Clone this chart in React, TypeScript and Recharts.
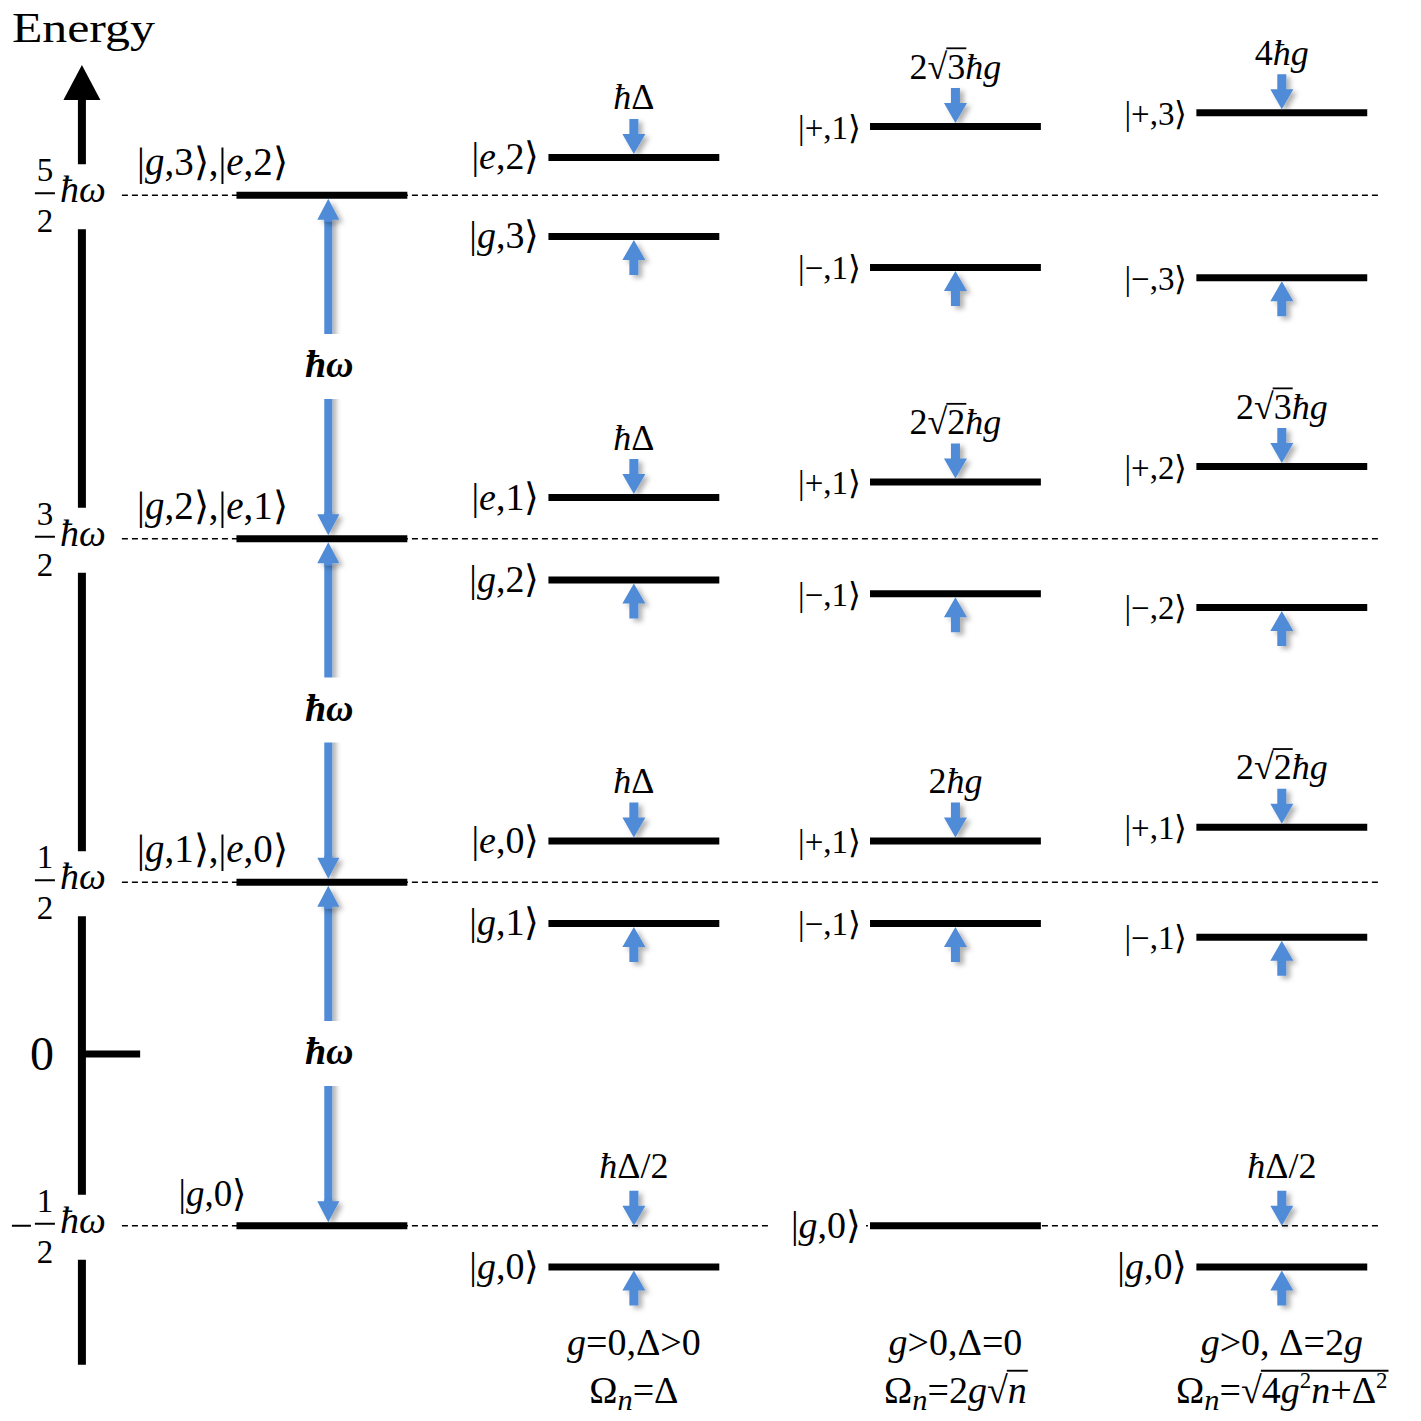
import React, { useLayoutEffect, useRef, useState } from 'react';
import { ComposedChart, XAxis, YAxis, Scatter, ReferenceLine } from 'recharts';

const FONT = "'Liberation Serif', 'Times New Roman', serif";
const BLUE = '#4f8bd6';

// horizontal placement (column units)
const columnX = [1.0, 1.975, 2.98, 4.0];
const levelHalfWidth = 0.267;
const energyAxisX = 0.25;
const dashStart = 0.375;
const dashEnd = 4.306;

// energies in units of ħω
const bareEnergies = [2.5, 1.5, 0.5, -0.5];
const bareKets = ['|g,3⟩,|e,2⟩', '|g,2⟩,|e,1⟩', '|g,1⟩,|e,0⟩', '|g,0⟩'];
const tickNumerators = ['5', '3', '1', '1'];
const axisTop = 2.879;
const axisBottom = -0.905;

const dispersiveEnergies = [2.61, 2.38, 1.62, 1.38, 0.62, 0.38, -0.62];
const dispersiveKets = ['|e,2⟩', '|g,3⟩', '|e,1⟩', '|g,2⟩', '|e,0⟩', '|g,1⟩', '|g,0⟩'];
const dispersiveSplits = ['ħΔ', 'ħΔ', 'ħΔ', 'ħΔ/2'];

const resonantEnergies = [2.7, 2.29, 1.665, 1.34, 0.62, 0.38, -0.5];
const resonantKets = ['|+,1⟩', '|−,1⟩', '|+,1⟩', '|−,1⟩', '|+,1⟩', '|−,1⟩', '|g,0⟩'];
const resonantSplits = ['2√[3]ħg', '2√[2]ħg', '2ħg'];

const detunedEnergies = [2.74, 2.26, 1.71, 1.3, 0.66, 0.34, -0.62];
const detunedKets = ['|+,3⟩', '|−,3⟩', '|+,2⟩', '|−,2⟩', '|+,1⟩', '|−,1⟩', '|g,0⟩'];
const detunedSplits = ['4ħg', '2√[3]ħg', '2√[2]ħg', 'ħΔ/2'];

const conditions = ['g=0,Δ>0', 'g>0,Δ=0', 'g>0, Δ=2g'];
const rabiFrequencies = ['Ω_n=Δ', 'Ω_n=2g√[n]', 'Ω_n=√[4g^2n+Δ^2]'];
const conditionE = -0.876;
const rabiE = -1.015;

// room left at each end of a photon arrow shaft for its head
const headSpan = 0.066;
const photonArrowX = columnX[0] + 0.02;

const coupled = [
  { x: columnX[1], energies: dispersiveEnergies, kets: dispersiveKets, splits: dispersiveSplits },
  { x: columnX[2], energies: resonantEnergies, kets: resonantKets, splits: resonantSplits },
  { x: columnX[3], energies: detunedEnergies, kets: detunedKets, splits: detunedSplits },
];

const levels = [
  ...bareEnergies.map((y) => ({ x: columnX[0], y })),
  ...coupled.flatMap((c) => c.energies.map((y) => ({ x: c.x, y }))),
];
const bareKetPoints = bareEnergies.map((y, i) => ({ x: columnX[0] - levelHalfWidth, y, ket: bareKets[i] }));
const ketPoints = coupled.flatMap((c) =>
  c.energies.map((y, i) => ({ x: c.x - levelHalfWidth, y, ket: c.kets[i] }))
);
const downArrows = coupled.flatMap((c) =>
  c.splits.map((label, k) =>
    k < 3
      ? { x: c.x, y: c.energies[2 * k], label, onLine: false }
      : { x: c.x, y: bareEnergies[3], label, onLine: true }
  )
);
const upArrows = coupled.flatMap((c) =>
  c.splits.map((_, k) => ({ x: c.x, y: k < 3 ? c.energies[2 * k + 1] : c.energies[6] }))
);
const photonPairs = bareEnergies.slice(0, 3).map((u, k) => ({ upper: u, lower: bareEnergies[k + 1] }));
const photonTops = photonPairs.map((p) => ({ x: photonArrowX, y: p.upper }));
const photonBottoms = photonPairs.map((p) => ({ x: photonArrowX, y: p.lower }));
const photonLabels = photonPairs.map((p) => ({ x: photonArrowX, y: (p.upper + p.lower) / 2 }));
const ticks = bareEnergies.map((y, i) => ({ x: energyAxisX, y, num: tickNumerators[i], neg: y < 0 }));
const captions = coupled.flatMap((c, i) => [
  { x: c.x, y: conditionE, text: conditions[i] },
  { x: c.x, y: rabiE, text: rabiFrequencies[i] },
]);

type Seg = { t: string; it: boolean; sub: boolean; sup: boolean };
type Run = { ov: boolean; segs: Seg[] };
// tiny markup: [..] radicand (gets a bar), _x subscript, ^x superscript; latin letters italic
const parse = (s: string): Run[] => {
  const runs: Run[] = [{ ov: false, segs: [] }];
  for (let i = 0; i < s.length; i++) {
    const c = s[i];
    if (c === '[' || c === ']') { runs.push({ ov: c === '[', segs: [] }); continue; }
    const cur = runs[runs.length - 1];
    if (c === '_' || c === '^') {
      const n = s[++i];
      cur.segs.push({ t: n, it: /[a-zħω]/.test(n), sub: c === '_', sup: c === '^' });
      continue;
    }
    cur.segs.push({ t: c, it: /[a-zħω]/.test(c), sub: false, sup: false });
  }
  return runs.filter((r) => r.segs.length);
};

const MathText = ({ x, y, s, size, anchor = 'middle', bold = false }: any) => {
  const textRef = useRef<SVGTextElement>(null);
  const ovRefs = useRef<(SVGTSpanElement | null)[]>([]);
  const [bars, setBars] = useState<{ x1: number; x2: number }[]>([]);
  const runs = parse(s);

  useLayoutEffect(() => {
    const t = textRef.current;
    const svg = t?.ownerSVGElement;
    if (!t || !svg) return;
    const base = svg.getBoundingClientRect();
    const next = ovRefs.current
      .filter((r): r is SVGTSpanElement => !!r)
      .map((r) => {
        const b = r.getBoundingClientRect();
        return { x1: b.left - base.left - 1, x2: b.right - base.left + 1 };
      });
    if (JSON.stringify(next) !== JSON.stringify(bars)) setBars(next);
  });

  let shift = 0;
  let k = 0;
  let ovIndex = 0;
  const seg = (g: Seg) => {
    const target = g.sub ? 0.2 * size : g.sup ? -0.38 * size : 0;
    const dy = target - shift;
    shift = target;
    return (
      <tspan key={k++} dy={dy} fontFamily={FONT} fontStyle={g.it ? 'italic' : 'normal'}
        fontSize={g.sup ? size * 0.6 : g.sub ? size * 0.8 : size}>
        {g.t}
      </tspan>
    );
  };
  return (
    <g>
      <text ref={textRef} x={x} y={y} fontSize={size} fontFamily={FONT} textAnchor={anchor} fill="#000"
        fontWeight={bold ? 'bold' : 'normal'} style={{ whiteSpace: 'pre' }}>
        {runs.map((r) => {
          if (!r.ov) return r.segs.map(seg);
          const idx = ovIndex++;
          return (
            <tspan key={k++} ref={(el) => { ovRefs.current[idx] = el; }} fontFamily={FONT} fontSize={size}>
              {r.segs.map(seg)}
            </tspan>
          );
        })}
      </text>
      {bars.map((b, i) => (
        <line key={i} x1={b.x1} x2={b.x2} y1={y - 0.84 * size} y2={y - 0.84 * size} stroke="#000" strokeWidth={size * 0.05} />
      ))}
    </g>
  );
};

const arrowPath = (x: number, tip: number, dir: number, shaftW: number, headW: number, headL: number, len: number) => {
  const b = tip - dir * headL;
  const t = tip - dir * len;
  return `M${x - shaftW / 2},${t} L${x + shaftW / 2},${t} L${x + shaftW / 2},${b} L${x + headW / 2},${b} L${x},${tip} L${x - headW / 2},${b} L${x - shaftW / 2},${b} Z`;
};

const DownArrow = ({ cx, cy, payload }: any) => {
  const tip = payload.onLine ? cy : cy - 3.5;
  return (
    <g>
      <path d={arrowPath(cx, tip, 1, 9, 23, 20, 35)} fill={BLUE} filter="url(#arrowShadow)" />
      <MathText x={cx} y={cy - 48} s={payload.label} size={36} />
    </g>
  );
};

const UpArrow = ({ cx, cy }: any) => (
  <path d={arrowPath(cx, cy + 3.5, -1, 9, 23, 20, 35)} fill={BLUE} filter="url(#arrowShadow)" />
);

const PhotonHeadUp = ({ cx, cy }: any) => (
  <path d={arrowPath(cx, cy + 3.5, -1, 8, 22, 21, 23)} fill={BLUE} filter="url(#arrowShadow)" />
);
const PhotonHeadDown = ({ cx, cy }: any) => (
  <path d={arrowPath(cx, cy - 3.5, 1, 8, 22, 21, 23)} fill={BLUE} filter="url(#arrowShadow)" />
);

const PhotonLabel = ({ cx, cy }: any) => (
  <g>
    <rect x={cx - 28} y={cy - 33} width={60} height={65} fill="#fff" />
    <MathText x={cx + 1} y={cy + 10} s="ħω" size={38} bold />
  </g>
);

const BareKet = ({ cx, cy, payload }: any) => (
  <MathText x={cx - 24} y={cy - 20} s={payload.ket} size={payload.ket.length > 6 ? 39 : 37} />
);

const Ket = ({ cx, cy, payload }: any) => {
  const size = /[ge]/.test(payload.ket) ? 38 : 33;
  const w = payload.ket.length * size * 0.5;
  return (
    <g>
      <rect x={cx - 6 - w} y={cy - 20} width={w + 2} height={40} fill="#fff" />
      <MathText x={cx - 9} y={cy + 12} s={payload.ket} size={size} anchor="end" />
    </g>
  );
};

const TickLabel = ({ cx, cy, payload }: any) => (
  <g fontFamily={FONT}>
    <rect x={cx - 24} y={cy - 31} width={52} height={65} fill="#fff" />
    {payload.neg && <line x1={cx - 70} x2={cx - 51} y1={cy} y2={cy} stroke="#000" strokeWidth={2} />}
    <text x={cx - 37} y={cy - 14} fontSize={33} fontFamily={FONT} textAnchor="middle">{payload.num}</text>
    <line x1={cx - 47} x2={cx - 27} y1={cy - 2} y2={cy - 2} stroke="#000" strokeWidth={2} />
    <text x={cx - 37} y={cy + 37} fontSize={33} fontFamily={FONT} textAnchor="middle">2</text>
    <text x={cx - 22} y={cy + 7} fontSize={38} fontFamily={FONT} fontStyle="italic">ħω</text>
  </g>
);

const ZeroLabel = ({ cx, cy }: any) => (
  <text x={cx - 40} y={cy + 16} fontSize={48} fontFamily={FONT} textAnchor="middle">0</text>
);

const AxisHead = ({ cx, cy }: any) => (
  <g>
    <path d={`M${cx},${cy} L${cx + 18.5},${cy + 35} L${cx - 18.5},${cy + 35} Z`} fill="#000" />
    <text x={cx - 70} y={cy - 23} fontSize={42} fontFamily={FONT} textLength={143} lengthAdjust="spacingAndGlyphs">
      Energy
    </text>
  </g>
);

const Caption = ({ cx, cy, payload }: any) => <MathText x={cx} y={cy} s={payload.text} size={38} />;

export default function App() {
  return (
    <div style={{ position: 'absolute', left: 0, top: 0, width: 1421, height: 1421, background: '#fff' }}>
      <ComposedChart width={1421} height={1421} margin={{ top: 0, right: 0, bottom: 0, left: 0 }}>
        <defs>
          <filter id="arrowShadow" x="-50%" y="-50%" width="200%" height="200%">
            <feDropShadow dx="4" dy="3" stdDeviation="2.5" floodColor="#000" floodOpacity="0.3" />
          </filter>
          <filter id="shaftShadow" filterUnits="userSpaceOnUse" x="0" y="0" width="1421" height="1421">
            <feDropShadow dx="4" dy="3" stdDeviation="2.5" floodColor="#000" floodOpacity="0.3" />
          </filter>
        </defs>
        <XAxis type="number" dataKey="x" domain={[-0.006, 4.435]} allowDataOverflow hide />
        <YAxis type="number" dataKey="y" domain={[-1.0684, 3.0684]} allowDataOverflow hide />

        {bareEnergies.map((e) => (
          <ReferenceLine key={`d${e}`} segment={[{ x: dashStart, y: e }, { x: dashEnd, y: e }]}
            stroke="#000" strokeWidth={1.5} strokeDasharray="6 4" />
        ))}
        <ReferenceLine segment={[{ x: energyAxisX, y: axisBottom }, { x: energyAxisX, y: axisTop - 0.08 }]}
          stroke="#000" strokeWidth={8} />
        <ReferenceLine segment={[{ x: energyAxisX, y: 0 }, { x: energyAxisX + 0.182, y: 0 }]}
          stroke="#000" strokeWidth={7} />
        {photonPairs.map((p, i) => (
          <ReferenceLine key={`p${i}`}
            segment={[{ x: photonArrowX, y: p.upper - headSpan }, { x: photonArrowX, y: p.lower + headSpan }]}
            stroke={BLUE} strokeWidth={8} filter="url(#shaftShadow)" />
        ))}
        {levels.map((l, i) => (
          <ReferenceLine key={`l${i}`}
            segment={[{ x: l.x - levelHalfWidth, y: l.y }, { x: l.x + levelHalfWidth, y: l.y }]}
            stroke="#000" strokeWidth={7} />
        ))}

        <Scatter data={ticks} shape={TickLabel} isAnimationActive={false} />
        <Scatter data={[{ x: energyAxisX, y: 0 }]} shape={ZeroLabel} isAnimationActive={false} />
        <Scatter data={[{ x: energyAxisX, y: axisTop }]} shape={AxisHead} isAnimationActive={false} />
        <Scatter data={photonLabels} shape={PhotonLabel} isAnimationActive={false} />
        <Scatter data={photonTops} shape={PhotonHeadUp} isAnimationActive={false} />
        <Scatter data={photonBottoms} shape={PhotonHeadDown} isAnimationActive={false} />
        <Scatter data={bareKetPoints} shape={BareKet} isAnimationActive={false} />
        <Scatter data={ketPoints} shape={Ket} isAnimationActive={false} />
        <Scatter data={downArrows} shape={DownArrow} isAnimationActive={false} />
        <Scatter data={upArrows} shape={UpArrow} isAnimationActive={false} />
        <Scatter data={captions} shape={Caption} isAnimationActive={false} />
      </ComposedChart>
    </div>
  );
}
